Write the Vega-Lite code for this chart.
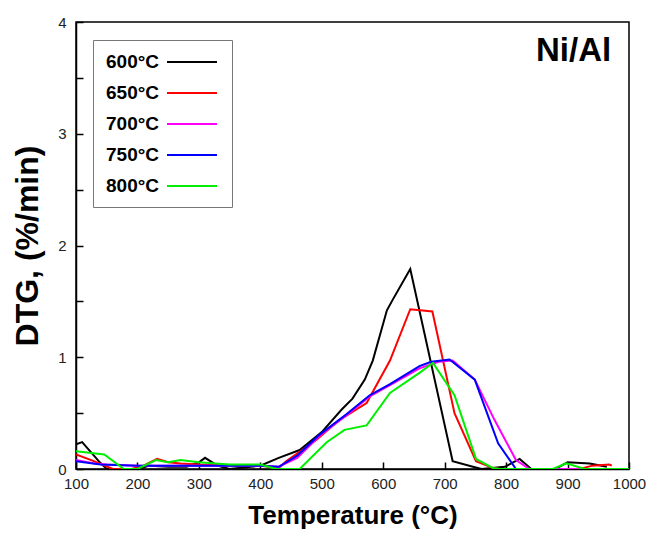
{
  "$schema": "https://vega.github.io/schema/vega-lite/v6.json",
  "width": 553,
  "height": 447,
  "autosize": "none",
  "padding": {"left": 76, "top": 22, "right": 25, "bottom": 69},
  "background": "white",
  "config": {
    "font": "Liberation Sans",
    "view": {"stroke": "black", "strokeWidth": 1.5},
    "axis": {"grid": false, "domainColor": "black", "domainWidth": 1.5, "tickColor": "black", "tickWidth": 1.5, "labelColor": "#222", "labelFont": "Liberation Sans", "labelFontSize": 15, "titleFont": "Liberation Sans", "titleFontWeight": "bold", "titleColor": "black"}
  },
  "datasets": {
    "dtg": [
      {"T": 100, "DTG": 0.22, "s": "600°C"}, {"T": 110, "DTG": 0.24, "s": "600°C"}, {"T": 137, "DTG": 0.07, "s": "600°C"}, {"T": 150, "DTG": 0.0, "s": "600°C"}, {"T": 200, "DTG": 0.0, "s": "600°C"}, {"T": 220, "DTG": 0.03, "s": "600°C"}, {"T": 250, "DTG": 0.02, "s": "600°C"}, {"T": 280, "DTG": 0.02, "s": "600°C"}, {"T": 300, "DTG": 0.06, "s": "600°C"}, {"T": 310, "DTG": 0.1, "s": "600°C"}, {"T": 330, "DTG": 0.03, "s": "600°C"}, {"T": 350, "DTG": 0.0, "s": "600°C"}, {"T": 400, "DTG": 0.03, "s": "600°C"}, {"T": 430, "DTG": 0.1, "s": "600°C"}, {"T": 464, "DTG": 0.17, "s": "600°C"}, {"T": 500, "DTG": 0.33, "s": "600°C"}, {"T": 532, "DTG": 0.53, "s": "600°C"}, {"T": 550, "DTG": 0.63, "s": "600°C"}, {"T": 570, "DTG": 0.8, "s": "600°C"}, {"T": 583, "DTG": 0.97, "s": "600°C"}, {"T": 606, "DTG": 1.42, "s": "600°C"}, {"T": 616, "DTG": 1.52, "s": "600°C"}, {"T": 644, "DTG": 1.79, "s": "600°C"}, {"T": 713, "DTG": 0.07, "s": "600°C"}, {"T": 746, "DTG": 0.02, "s": "600°C"}, {"T": 760, "DTG": 0.0, "s": "600°C"}, {"T": 798, "DTG": 0.02, "s": "600°C"}, {"T": 822, "DTG": 0.09, "s": "600°C"}, {"T": 841, "DTG": 0.0, "s": "600°C"}, {"T": 880, "DTG": 0.0, "s": "600°C"}, {"T": 900, "DTG": 0.06, "s": "600°C"}, {"T": 936, "DTG": 0.05, "s": "600°C"}, {"T": 964, "DTG": 0.02, "s": "600°C"},

      {"T": 100, "DTG": 0.13, "s": "650°C"}, {"T": 129, "DTG": 0.07, "s": "650°C"}, {"T": 160, "DTG": 0.0, "s": "650°C"}, {"T": 190, "DTG": 0.0, "s": "650°C"}, {"T": 210, "DTG": 0.03, "s": "650°C"}, {"T": 232, "DTG": 0.09, "s": "650°C"}, {"T": 250, "DTG": 0.06, "s": "650°C"}, {"T": 270, "DTG": 0.05, "s": "650°C"}, {"T": 300, "DTG": 0.04, "s": "650°C"}, {"T": 350, "DTG": 0.03, "s": "650°C"}, {"T": 400, "DTG": 0.03, "s": "650°C"}, {"T": 430, "DTG": 0.01, "s": "650°C"}, {"T": 442, "DTG": 0.07, "s": "650°C"}, {"T": 491, "DTG": 0.26, "s": "650°C"}, {"T": 529, "DTG": 0.44, "s": "650°C"}, {"T": 573, "DTG": 0.59, "s": "650°C"}, {"T": 611, "DTG": 0.97, "s": "650°C"}, {"T": 644, "DTG": 1.43, "s": "650°C"}, {"T": 680, "DTG": 1.41, "s": "650°C"}, {"T": 716, "DTG": 0.5, "s": "650°C"}, {"T": 751, "DTG": 0.07, "s": "650°C"}, {"T": 778, "DTG": 0.01, "s": "650°C"}, {"T": 790, "DTG": 0.0, "s": "650°C"}, {"T": 920, "DTG": 0.0, "s": "650°C"}, {"T": 940, "DTG": 0.03, "s": "650°C"}, {"T": 968, "DTG": 0.04, "s": "650°C"}, {"T": 972, "DTG": 0.03, "s": "650°C"},

      {"T": 100, "DTG": 0.08, "s": "700°C"}, {"T": 130, "DTG": 0.05, "s": "700°C"}, {"T": 150, "DTG": 0.04, "s": "700°C"}, {"T": 200, "DTG": 0.03, "s": "700°C"}, {"T": 250, "DTG": 0.03, "s": "700°C"}, {"T": 300, "DTG": 0.03, "s": "700°C"}, {"T": 350, "DTG": 0.03, "s": "700°C"}, {"T": 400, "DTG": 0.03, "s": "700°C"}, {"T": 430, "DTG": 0.02, "s": "700°C"}, {"T": 460, "DTG": 0.1, "s": "700°C"}, {"T": 497, "DTG": 0.3, "s": "700°C"}, {"T": 540, "DTG": 0.48, "s": "700°C"}, {"T": 578, "DTG": 0.65, "s": "700°C"}, {"T": 611, "DTG": 0.75, "s": "700°C"}, {"T": 659, "DTG": 0.9, "s": "700°C"}, {"T": 690, "DTG": 0.96, "s": "700°C"}, {"T": 713, "DTG": 0.97, "s": "700°C"}, {"T": 749, "DTG": 0.8, "s": "700°C"}, {"T": 781, "DTG": 0.44, "s": "700°C"}, {"T": 816, "DTG": 0.08, "s": "700°C"}, {"T": 838, "DTG": 0.0, "s": "700°C"}, {"T": 930, "DTG": 0.0, "s": "700°C"},

      {"T": 100, "DTG": 0.07, "s": "750°C"}, {"T": 140, "DTG": 0.04, "s": "750°C"}, {"T": 200, "DTG": 0.03, "s": "750°C"}, {"T": 300, "DTG": 0.03, "s": "750°C"}, {"T": 400, "DTG": 0.03, "s": "750°C"}, {"T": 430, "DTG": 0.02, "s": "750°C"}, {"T": 460, "DTG": 0.12, "s": "750°C"}, {"T": 497, "DTG": 0.31, "s": "750°C"}, {"T": 540, "DTG": 0.49, "s": "750°C"}, {"T": 578, "DTG": 0.66, "s": "750°C"}, {"T": 611, "DTG": 0.76, "s": "750°C"}, {"T": 659, "DTG": 0.92, "s": "750°C"}, {"T": 678, "DTG": 0.96, "s": "750°C"}, {"T": 708, "DTG": 0.98, "s": "750°C"}, {"T": 749, "DTG": 0.8, "s": "750°C"}, {"T": 773, "DTG": 0.44, "s": "750°C"}, {"T": 787, "DTG": 0.23, "s": "750°C"}, {"T": 816, "DTG": 0.0, "s": "750°C"},

      {"T": 100, "DTG": 0.16, "s": "800°C"}, {"T": 146, "DTG": 0.13, "s": "800°C"}, {"T": 178, "DTG": 0.0, "s": "800°C"}, {"T": 200, "DTG": 0.0, "s": "800°C"}, {"T": 230, "DTG": 0.08, "s": "800°C"}, {"T": 250, "DTG": 0.06, "s": "800°C"}, {"T": 270, "DTG": 0.08, "s": "800°C"}, {"T": 300, "DTG": 0.06, "s": "800°C"}, {"T": 350, "DTG": 0.04, "s": "800°C"}, {"T": 400, "DTG": 0.04, "s": "800°C"}, {"T": 426, "DTG": 0.0, "s": "800°C"}, {"T": 464, "DTG": 0.0, "s": "800°C"}, {"T": 508, "DTG": 0.24, "s": "800°C"}, {"T": 537, "DTG": 0.35, "s": "800°C"}, {"T": 573, "DTG": 0.39, "s": "800°C"}, {"T": 611, "DTG": 0.68, "s": "800°C"}, {"T": 659, "DTG": 0.86, "s": "800°C"}, {"T": 681, "DTG": 0.95, "s": "800°C"}, {"T": 716, "DTG": 0.66, "s": "800°C"}, {"T": 751, "DTG": 0.09, "s": "800°C"}, {"T": 778, "DTG": 0.01, "s": "800°C"}, {"T": 790, "DTG": 0.0, "s": "800°C"}, {"T": 876, "DTG": 0.0, "s": "800°C"}, {"T": 898, "DTG": 0.05, "s": "800°C"}, {"T": 928, "DTG": 0.0, "s": "800°C"}, {"T": 1000, "DTG": 0.0, "s": "800°C"}
    ]
  },
  "layer": [
    {
      "data": {"name": "dtg"},
      "mark": {"type": "line", "strokeWidth": 2, "clip": true},
      "encoding": {
        "x": {"field": "T", "type": "quantitative", "scale": {"domain": [100, 1000], "nice": false, "zero": false},
          "axis": {"title": "Temperature (°C)", "titleFontSize": 26, "titlePadding": 11, "format": "d", "values": [100,150,200,250,300,350,400,450,500,550,600,650,700,750,800,850,900,950,1000], "labelExpr": "datum.value % 100 === 0 ? datum.label : ''", "tickSize": -7, "labelPadding": 14, "labelFlush": false}},
        "y": {"field": "DTG", "type": "quantitative", "scale": {"domain": [0, 4], "nice": false},
          "axis": {"title": "DTG, (%/min)", "titleFontSize": 32, "titlePadding": 13, "format": "~g", "values": [0,0.5,1,1.5,2,2.5,3,3.5,4], "labelExpr": "datum.value % 1 === 0 ? datum.label : ''", "tickSize": -7, "labelPadding": 17}},
        "color": {"field": "s", "type": "nominal",
          "scale": {"domain": ["600°C", "650°C", "700°C", "750°C", "800°C"], "range": ["#000000", "#ff0000", "#ff00ff", "#0000ff", "#00ee00"]},
          "legend": {"title": null, "orient": "none", "legendX": 17, "legendY": 18, "padding": 11, "symbolType": "M-2.5,0H2.5", "symbolSize": 400, "symbolStrokeWidth": 2, "symbolOffset": 77, "labelOffset": -97, "labelAlign": "left", "labelFontSize": 19, "labelFontWeight": "bold", "labelColor": "black", "labelFont": "Liberation Sans", "rowPadding": 10, "strokeColor": "#777", "fillColor": "white"}}
      }
    },
    {
      "data": {"values": [{}]},
      "mark": {"type": "text", "text": "Ni/Al", "align": "right", "baseline": "middle", "fontSize": 33, "fontWeight": "bold", "font": "Liberation Sans", "color": "black"},
      "encoding": {
        "x": {"datum": 971, "type": "quantitative"},
        "y": {"datum": 3.74, "type": "quantitative"}
      }
    }
  ]
}
